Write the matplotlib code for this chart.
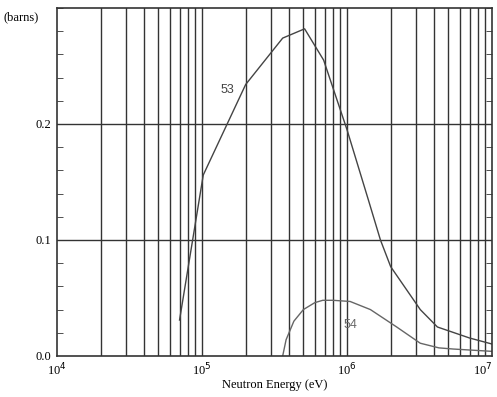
import matplotlib
matplotlib.use("Agg")
import matplotlib.pyplot as plt
from matplotlib.ticker import LogLocator, FixedLocator, MultipleLocator, NullFormatter

# cross section curves (energy in eV, sigma in barns)
energy_53 = [7.0e4, 1.02e5, 2.0e5, 3.6e5, 5.1e5, 6.9e5, 1.0e6, 1.4e6, 1.7e6,
             2.0e6, 3.2e6, 4.2e6, 7.0e6, 1.0e7]
sigma_53 = [0.031, 0.156, 0.234, 0.274, 0.282, 0.255, 0.195, 0.135, 0.100,
            0.077, 0.040, 0.025, 0.0155, 0.0103]

energy_54 = [3.6e5, 3.8e5, 4.3e5, 5.0e5, 6.0e5, 6.8e5, 8.0e5, 1.05e6, 1.45e6,
             2.2e6, 3.2e6, 4.3e6, 5.4e6, 1.0e7]
sigma_54 = [0.0, 0.014, 0.030, 0.040, 0.046, 0.048, 0.048, 0.047, 0.040,
            0.025, 0.011, 0.007, 0.006, 0.004]

x_ticks = [1e4, 1e5, 1e6, 1e7]
x_labels = ["10$^4$", "10$^5$", "10$^6$", "10$^7$"]
y_ticks = [0.0, 0.1, 0.2]
y_labels = ["0.0", "0.1", "0.2"]

plt.rcParams["font.family"] = ["Liberation Serif", "DejaVu Serif"]

fig = plt.figure(figsize=(4.97, 3.97), dpi=100)
ax = fig.add_axes([0.1147, 0.1033, 0.8753, 0.8767])

line_col = "#333333"
ax.plot(energy_53, sigma_53, color="#444444", lw=1.0)
ax.plot(energy_54, sigma_54, color="#666666", lw=1.0)

ax.set_xscale("log")
ax.set_xlim(1e4, 1e7)
ax.set_ylim(0, 0.30)

ax.xaxis.set_major_locator(FixedLocator(x_ticks))
ax.xaxis.set_minor_locator(LogLocator(base=10, subs=range(2, 10), numticks=20))
ax.xaxis.set_minor_formatter(NullFormatter())
ax.set_xticklabels(x_labels, fontsize=9)
ax.get_xticklabels()[-1].set_horizontalalignment("right")
ax.set_yticks(y_ticks)
ax.set_yticklabels(y_labels, fontsize=9)
ax.yaxis.set_minor_locator(MultipleLocator(0.02))

ax.tick_params(axis="x", which="both", length=0, pad=4)
ax.tick_params(axis="y", which="major", length=0, pad=4)
ax.tick_params(axis="y", which="minor", direction="in", length=4,
               left=True, right=True, color=line_col)

for x in ax.xaxis.get_minorticklocs().tolist() + x_ticks:
    if 1e4 < x < 1e7:
        ax.axvline(x, color=line_col, lw=1.0, zorder=0)
for y in [0.1, 0.2]:
    ax.axhline(y, color=line_col, lw=1.0, zorder=0)

for s in ax.spines.values():
    s.set_color(line_col)
    s.set_linewidth(1.2)

ax.text(1.5e5, 0.229, "53", fontsize=9, color="#444444", ha="center", va="center",
        family=["Liberation Sans"])
ax.text(1.05e6, 0.027, "54", fontsize=9, color="#666666", ha="center", va="center",
        family=["Liberation Sans"])

fig.text(3 / 497, 1 - 17 / 397, "(barns)", fontsize=9, va="center", ha="left")
ax.set_xlabel("Neutron Energy (eV)", fontsize=9, labelpad=0)
ax.xaxis.set_label_coords(0.5, -0.065)

fig.savefig("out.png", dpi=100)
